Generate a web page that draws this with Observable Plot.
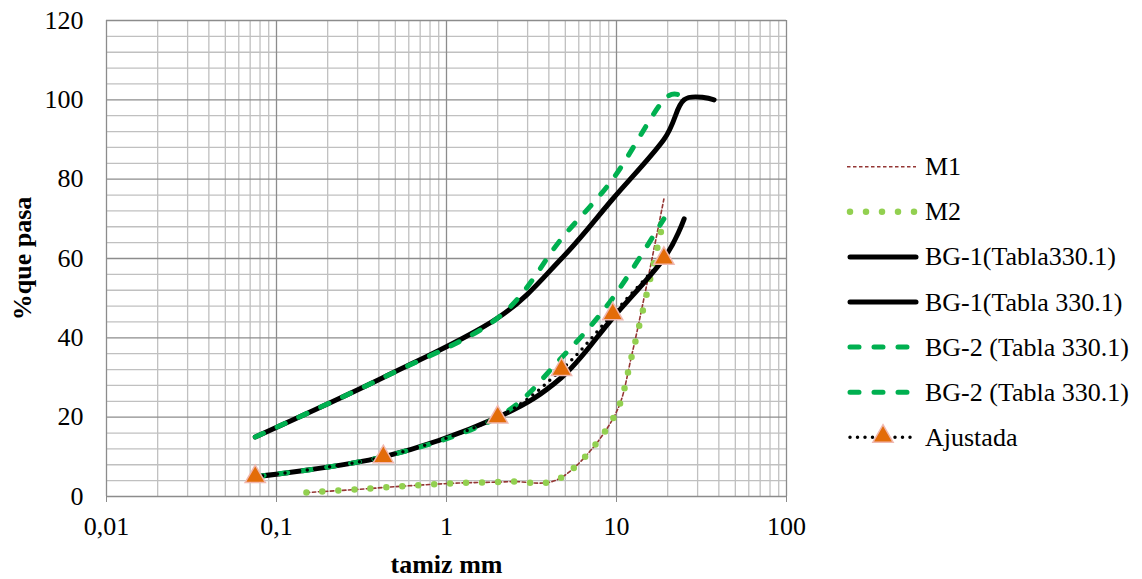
<!DOCTYPE html>
<html><head><meta charset="utf-8">
<script src="https://cdn.jsdelivr.net/npm/d3@7"></script>
<script src="https://cdn.jsdelivr.net/npm/@observablehq/plot@0.6"></script>
<style>
body{margin:0;background:#fff;}
#wrap{position:relative;width:1142px;height:579px;font-family:"Liberation Serif","DejaVu Serif",serif;}
#legend{position:absolute;left:0;top:0;pointer-events:none;}
</style></head><body><div id="wrap"></div>
<script>
// ---- data (sieve size in mm, % passing) ----
const mSieve   = [0.15, 0.3, 0.6, 1.18, 2.36, 4.75, 9.5, 12.5, 19];
const m1Pass   = [1.0, 1.8, 2.7, 3.4, 3.75, 4.8, 19.5, 37, 75];
const m2Pass   = [1.0, 1.8, 2.7, 3.4, 3.75, 4.8, 19.5, 36.6, 70];
const bg1UpSieve = [0.075, 0.425, 2, 4.75, 9.5, 19, 25, 37.5];
const bg1UpPass  = [15, 30, 45, 60, 75, 90, 100, 100];
const bg1LoSieve = [0.075, 0.425, 2, 4.75, 9.5, 19, 25];
const bg1LoPass  = [5, 10, 20, 30, 45, 60, 70];
const bg2UpSieve = [0.075, 0.425, 2, 4.75, 9.5, 19, 25];
const bg2UpPass  = [15, 30, 45, 65, 80, 100, 100];
const bg2LoSieve = [0.075, 0.425, 2, 4.75, 9.5, 19];
const bg2LoPass  = [5, 10, 20, 35, 50, 70];
const ajSieve = [0.075, 0.425, 2, 4.75, 9.5, 19];
const ajPass  = [5, 10, 20, 32, 46, 60];
const xTicks = [0.01, 0.1, 1, 10, 100];
const yTicks = [0, 20, 40, 60, 80, 100, 120];
const legendLabels = ["M1", "M2", "BG-1(Tabla330.1)", "BG-1(Tabla 330.1)", "BG-2 (Tabla 330.1)", "BG-2 (Tabla 330.1)", "Ajustada"];

const rows = (xs, ys) => xs.map((x, i) => ({x, y: ys[i]}));
const FONT = "Liberation Serif, DejaVu Serif, serif";
const minorX = d3.scaleLog().domain([0.01, 100]).ticks()
  .filter(v => Math.abs(Math.log10(v) - Math.round(Math.log10(v))) > 1e-9);
const minorY = d3.range(0, 121, 4).filter(v => v % 20 !== 0);

const C = {m1: "#943634", m2: "#92D050", bg1: "#000000", bg2: "#00B050", aj: "#000000", tri: "#E36C09", triStroke: "#F0B8B0"};

const W = 1142, H = 579;
const chart = Plot.plot({
  width: W, height: H,
  marginLeft: 106, marginRight: 356, marginTop: 20, marginBottom: 83,
  style: {fontFamily: FONT, fontSize: "26px", color: "#000", background: "#fff", overflow: "visible"},
  x: {type: "log", domain: [0.01, 100]},
  y: {domain: [0, 120]},
  marks: [
    Plot.ruleX(minorX, {stroke: "#c0c0c0", strokeWidth: 1.3}),
    Plot.ruleY(minorY, {stroke: "#c0c0c0", strokeWidth: 1.3}),
    Plot.ruleX(xTicks, {stroke: "#8c8c8c", strokeWidth: 1.3}),
    Plot.ruleY(yTicks, {stroke: "#8c8c8c", strokeWidth: 1.3}),
    Plot.axisX({ticks: xTicks, tickFormat: d => String(d).replace(".", ","), tickSize: 6, tickPadding: 14,
      stroke: "#8c8c8c", label: "tamiz mm", labelAnchor: "center", labelOffset: 76, labelArrow: "none"}),
    Plot.axisY({ticks: yTicks, tickSize: 0, tickPadding: 23,
      label: "%que pasa", labelAnchor: "center", labelOffset: 94, labelArrow: "none"}),
    Plot.line(rows(mSieve, m1Pass), {x: "x", y: "y", curve: "cardinal", stroke: C.m1, strokeWidth: 1.6, strokeDasharray: "3.5,2.5"}),
    Plot.line(rows(mSieve, m2Pass), {x: "x", y: "y", curve: "cardinal", stroke: C.m2, strokeWidth: 6.5, strokeDasharray: "0,16", strokeLinecap: "round"}),
    Plot.line(rows(bg1UpSieve, bg1UpPass), {x: "x", y: "y", curve: "cardinal", stroke: C.bg1, strokeWidth: 5, strokeLinecap: "round"}),
    Plot.line(rows(bg1LoSieve, bg1LoPass), {x: "x", y: "y", curve: "cardinal", stroke: C.bg1, strokeWidth: 5, strokeLinecap: "round"}),
    Plot.line(rows(bg2UpSieve, bg2UpPass), {x: "x", y: "y", curve: "cardinal", stroke: C.bg2, strokeWidth: 5, strokeDasharray: "9,15", strokeLinecap: "round"}),
    Plot.line(rows(bg2LoSieve, bg2LoPass), {x: "x", y: "y", curve: "cardinal", stroke: C.bg2, strokeWidth: 5, strokeDasharray: "9,15", strokeLinecap: "round"}),
    Plot.line(rows(ajSieve, ajPass), {x: "x", y: "y", curve: "cardinal", stroke: C.aj, strokeWidth: 3.5, strokeDasharray: "0,7.5", strokeLinecap: "round"}),
    Plot.dot(rows(ajSieve, ajPass), {x: "x", y: "y", symbol: "triangle", r: 7.5, fill: C.tri, stroke: C.triStroke, strokeWidth: 1.5})
  ]
});
const wrap = document.getElementById("wrap");
wrap.appendChild(chart);
d3.select(chart).selectAll('g[aria-label="x-axis label"] text, g[aria-label="y-axis label"] text').attr("font-weight", "bold");

// ---- legend ----
const lg = d3.select(wrap).append("svg").attr("id", "legend").attr("width", W).attr("height", H)
  .attr("font-family", FONT).attr("font-size", 26);
const styles = [
  {stroke: C.m1, w: 1.6, dash: "3.5,2.5", cap: "butt"},
  {stroke: C.m2, w: 6.5, dash: "0,16", cap: "round"},
  {stroke: C.bg1, w: 5, dash: null, cap: "round"},
  {stroke: C.bg1, w: 5, dash: null, cap: "round"},
  {stroke: C.bg2, w: 5, dash: "9,15", cap: "round"},
  {stroke: C.bg2, w: 5, dash: "9,15", cap: "round"},
  {stroke: C.aj, w: 3.5, dash: "0,7.5", cap: "round", tri: true}
];
legendLabels.forEach((lab, i) => {
  const y = 166.7 + i * 45.1;
  const s = styles[i];
  const x0 = s.cap === "round" ? 850 : 847;
  lg.append("line").attr("x1", x0).attr("x2", s.dash === "0,16" ? 915 : 916).attr("y1", y).attr("y2", y)
    .attr("stroke", s.stroke).attr("stroke-width", s.w).attr("stroke-dasharray", s.dash)
    .attr("stroke-linecap", s.cap);
  if (s.tri) {
    lg.append("path").attr("transform", `translate(883,${y - 1})`)
      .attr("d", d3.symbol(d3.symbolTriangle, Math.PI * 7.5 * 7.5)())
      .attr("fill", C.tri).attr("stroke", C.triStroke).attr("stroke-width", 1.5);
  }
  lg.append("text").attr("x", 925).attr("y", y).attr("dy", "0.33em").text(lab);
});
</script></body></html>
